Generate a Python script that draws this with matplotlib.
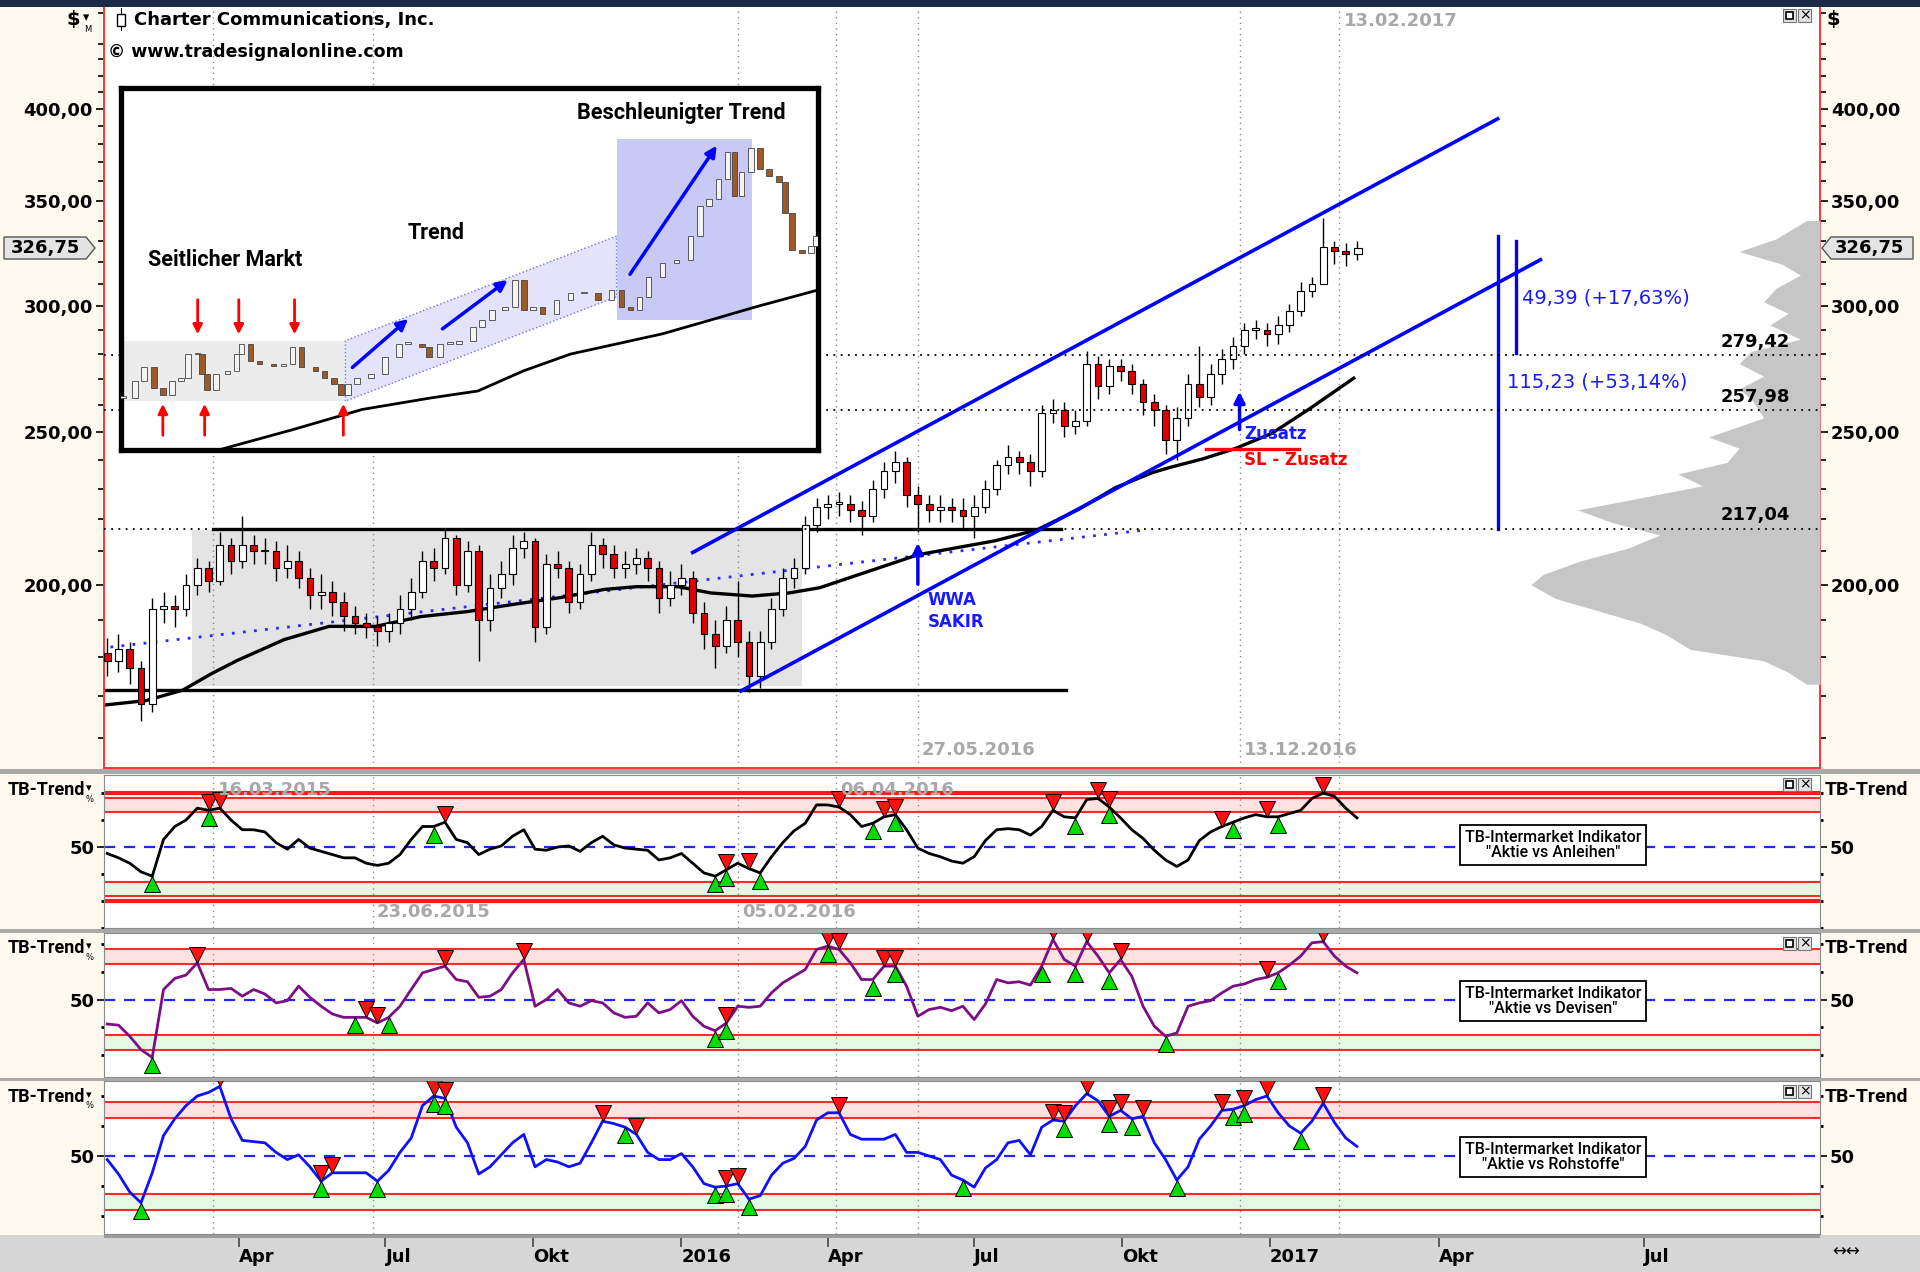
import numpy as np
import pandas as pd
import matplotlib
matplotlib.use("Agg")
import matplotlib.pyplot as plt
import matplotlib.dates as mdates
from matplotlib.patches import Rectangle, Polygon
from matplotlib.ticker import FixedLocator, FuncFormatter, NullFormatter, NullLocator
from matplotlib.transforms import offset_copy, blended_transform_factory

W, H = 1920, 1272
COND = ['Roboto', 'DejaVu Sans']

# ---------------- data ----------------
# weekly candles, first one ends 2015-01-09, open = previous close
first_week = "2015-01-09"
first_open = 181
closes = [179, 182, 177, 168, 193, 194, 193, 200, 205, 201,
          212, 207, 212, 210, 210, 205, 207, 202, 197, 198,
          195, 191, 189, 188, 187, 189, 193, 198, 207, 205,
          214, 200, 210, 190, 199, 203, 211, 213, 188, 206,
          205, 195, 203, 212, 209, 205, 206, 208, 205, 196,
          200, 202, 192, 186, 183, 190, 184, 175, 184, 193,
          202, 205, 218, 224, 225, 225, 223, 221, 230, 236,
          239, 228, 225, 223, 224, 223, 221, 224, 230, 238,
          241, 239, 236, 257, 258, 252, 254, 276, 267, 275,
          273, 268, 261, 258, 247, 255, 268, 263, 272, 278,
          283, 290, 290, 288, 292, 298, 307, 310, 327, 325,
          324, 326.75]
highs = [185, 186, 184, 179, 196, 198, 197, 203, 208, 207,
         216, 214, 221, 215, 214, 213, 212, 210, 205, 203,
         201, 198, 194, 192, 191, 192, 197, 202, 210, 211,
         217, 215, 213, 212, 203, 207, 215, 216, 214, 209,
         210, 207, 206, 216, 214, 212, 210, 211, 210, 207,
         204, 206, 204, 195, 190, 194, 201, 187, 187, 196,
         205, 208, 221, 227, 228, 229, 228, 226, 233, 239,
         243, 241, 231, 228, 228, 227, 227, 228, 233, 240,
         245, 243, 242, 260, 262, 261, 258, 281, 279, 278,
         278, 276, 270, 264, 260, 259, 272, 283, 276, 282,
         287, 293, 294, 293, 296, 301, 311, 313, 341, 330,
         329, 330]
lows = [175, 176, 173, 164, 166, 189, 188, 191, 197, 198,
        200, 203, 205, 206, 206, 201, 202, 199, 193, 193,
        191, 187, 186, 185, 183, 184, 186, 190, 196, 201,
        203, 197, 198, 179, 187, 196, 200, 208, 184, 186,
        202, 192, 193, 201, 205, 202, 202, 203, 201, 192,
        194, 197, 189, 182, 177, 181, 180, 171, 172, 182,
        191, 199, 203, 216, 220, 221, 219, 215, 219, 227,
        232, 224, 216, 219, 219, 219, 217, 214, 222, 228,
        235, 235, 231, 234, 253, 248, 249, 252, 262, 264,
        269, 264, 256, 252, 242, 240, 252, 259, 260, 268,
        274, 280, 286, 283, 284, 289, 296, 304, 318, 319,
        318, 321]

ma_dates = ["2015-01-07", "2015-02-02", "2015-02-25", "2015-03-15", "2015-03-31",
            "2015-04-29", "2015-05-27", "2015-06-25", "2015-07-23", "2015-08-21",
            "2015-09-18", "2015-10-17", "2015-11-14", "2015-12-04", "2015-12-30",
            "2016-01-19", "2016-02-14", "2016-03-08", "2016-03-27", "2016-05-27",
            "2016-07-14", "2016-08-09", "2016-09-04", "2016-09-27", "2016-10-20",
            "2016-10-31", "2016-11-20", "2016-12-10", "2017-01-02", "2017-01-25",
            "2017-02-22"]
ma_vals = [167.8, 168.9, 171.5, 175.7, 179.1, 184.6, 188.2, 188.2, 190.9, 192.3,
           194.3, 196.2, 198.6, 199.4, 199.4, 197.6, 196.7, 197.6, 199.1, 208.9,
           213.2, 216.6, 223.2, 230.4, 235.5, 237.3, 240.2, 243.8, 249.3, 258.2,
           270.2]

trend_dates = ["2015-01-11", "2016-10-14"]
trend_vals = [182.6, 216.5]
chan_up_dates = ["2016-01-08", "2017-04-27"]
chan_up_vals = [209.6, 394.3]
chan_lo_dates = ["2016-02-07", "2017-05-16"]
chan_lo_vals = [171.3, 321.1]
box_dates = ["2015-03-03", "2016-03-16"]
box_vals = [172.5, 216.5]
res_dates = ["2015-03-16", "2016-08-24"]
res_val = 217.04
sup_dates = ["2015-01-07", "2016-08-27"]
sup_val = 171.6
levels = [279.42, 257.98, 217.04]
level_labels = ["279,42", "257,98", "217,04"]
meas_dates = ["2017-04-27", "2017-05-05"]
meas_top = [332.2, 329.9]
meas_bot = [217.04, 280.3]
sl_dates = ["2016-11-22", "2017-01-19"]
sl_val = 243.6
wwa_date, wwa_from, wwa_to = "2016-05-27", 199.3, 213.4
zus_date, zus_from, zus_to = "2016-12-13", 249.7, 266.0

vp_prices = [340, 331, 325, 319, 314, 308, 302, 297, 292, 286, 281, 276, 271,
             266, 262, 255, 248, 244, 239, 235, 231, 227, 223, 219, 215, 211,
             207, 203, 200, 196, 193, 189, 186, 182, 179, 176, 173]
vp_widths = [11, 36, 66, 31, 16, 36, 46, 26, 41, 16, 56, 66, 46,
             66, 56, 46, 91, 66, 76, 116, 96, 146, 198, 170, 131, 156,
             196, 226, 236, 216, 186, 146, 126, 106, 46, 26, 11]

marker_dates = ["2015-03-16", "2015-06-23", "2016-02-05", "2016-04-06",
                "2016-05-27", "2016-12-13", "2017-02-13"]

tick_dates = ["2015-04-01", "2015-07-01", "2015-10-01", "2016-01-01", "2016-04-01",
              "2016-07-01", "2016-10-01", "2017-01-01", "2017-04-01", "2017-07-01"]
tick_labels = ["Apr", "Jul", "Okt", "2016", "Apr", "Jul", "Okt", "2017", "Apr", "Jul"]

osc_anleihen = [44, 40, 35, 27, 23, 57, 69, 75, 86, 84,
                86, 75, 66, 66, 64, 54, 48, 57, 49, 46,
                43, 40, 40, 35, 33, 35, 43, 57, 69, 69,
                73, 57, 54, 43, 48, 51, 60, 66, 48, 47,
                50, 51, 46, 54, 60, 52, 49, 48, 47, 38,
                40, 44, 35, 26, 23, 29, 35, 30, 26, 41,
                54, 65, 72, 89, 89, 87, 80, 69, 72, 78,
                80, 66, 49, 44, 41, 37, 35, 41, 56, 66,
                67, 66, 61, 69, 84, 78, 77, 94, 95, 87,
                77, 66, 58, 47, 38, 32, 38, 56, 64, 69,
                73, 77, 80, 78, 78, 81, 84, 95, 100, 97,
                86, 77]
osc_devisen = [28, 27, 17, 5, -2, 59, 69, 72, 83, 59,
               59, 60, 53, 59, 55, 47, 49, 62, 52, 44,
               37, 34, 34, 34, 29, 34, 44, 59, 74, 77,
               80, 68, 66, 52, 53, 59, 74, 86, 44, 50,
               59, 47, 44, 49, 47, 38, 34, 35, 47, 38,
               41, 49, 35, 26, 22, 29, 44, 43, 44, 56,
               65, 71, 77, 95, 98, 95, 83, 68, 68, 80,
               80, 62, 35, 41, 43, 40, 44, 32, 46, 68,
               65, 66, 63, 80, 104, 86, 80, 102, 89, 74,
               86, 71, 44, 26, 17, 20, 44, 47, 49, 56,
               62, 64, 68, 70, 74, 81, 89, 101, 102, 89,
               80, 74]
osc_rohstoffe = [47, 35, 20, 11, 36, 67, 81, 92, 100, 103,
                 108, 81, 63, 62, 61, 53, 47, 51, 41, 29,
                 36, 36, 36, 36, 29, 38, 53, 65, 92, 100,
                 98, 74, 61, 35, 41, 51, 61, 68, 41, 47,
                 45, 41, 44, 61, 79, 77, 74, 68, 53, 47,
                 47, 52, 41, 27, 24, 25, 27, 14, 17, 34,
                 44, 48, 58, 80, 86, 86, 68, 64, 64, 64,
                 68, 53, 53, 50, 47, 34, 30, 24, 40, 47,
                 61, 63, 51, 74, 80, 79, 92, 102, 96, 83,
                 88, 81, 83, 61, 47, 30, 41, 64, 75, 88,
                 89, 92, 97, 100, 86, 75, 69, 79, 94, 78,
                 65, 58]
anl_buy = [4, 9, 29, 54, 55, 58, 68, 70, 86, 89, 100, 104]
anl_sell = [9, 10, 30, 55, 57, 65, 69, 70, 84, 88, 89, 99, 103, 108]
dev_buy = [4, 22, 25, 54, 55, 64, 68, 70, 83, 86, 89, 94, 104]
dev_sell = [8, 23, 24, 30, 37, 55, 64, 65, 69, 70, 84, 87, 90, 103, 108]
roh_buy = [3, 19, 24, 29, 30, 46, 54, 55, 57, 76, 85, 89, 91, 95, 100, 101, 106]
roh_sell = [10, 19, 20, 29, 30, 44, 47, 55, 56, 65, 84, 85, 87, 89, 90, 92, 99, 101, 103, 108]

# inset sketch (its own 0..100 coordinates)
ins_x = [0.3, 2, 3.3, 4.7, 6, 7.3, 8.6, 9.6, 11, 11.6, 12.3, 13.6, 15.3, 16.6, 17.3,
         18.6, 19.9, 21.9, 23.3, 24.6, 25.9, 27.9, 29.2, 30.6, 31.6, 32.6, 33.9, 35.9,
         37.9, 39.9, 41.2, 43.2, 44.2, 45.8, 47.2, 48.5, 50.5, 51.8, 53.2, 55.1, 56.5,
         57.8, 59.1, 60.5, 62.5, 64.5, 66.4, 68.4, 70.4, 71.8, 73.1, 74.4, 75.7, 77.7,
         79.7, 81.7, 83.1, 84.4, 85.7, 87, 88, 89, 90.4, 91.7, 93, 94.4, 95.3, 96.3,
         97.7, 99, 99.7]
ins_close = [14.4, 19, 22.8, 17.2, 15.3, 19, 20, 26.5, 26.5, 21, 16.7, 21, 21.9, 26.5,
             29.3, 24.7, 23.7, 23.3, 23.7, 28.4, 22.8, 21.9, 20, 18.1, 15.3, 18.1, 20,
             21, 25.6, 29.3, 29.3, 28.4, 25.6, 29.3, 29.3, 30.2, 34, 35.8, 38.6, 39.5,
             47, 38.6, 39.5, 37.7, 41.4, 43.3, 43.3, 41.4, 44.2, 39.5, 38.6, 42.3, 47.9,
             51.6, 52.6, 59.1, 67.4, 69.3, 74.9, 82.3, 70.2, 76.7, 83.3, 77.7, 75.8, 74,
             65.6, 55.3, 54.4, 56.3, 59.1]
ins_ma_x = [14, 24.6, 34.6, 44.5, 51.2, 57.8, 64.5, 71.1, 77.7, 84.4, 91, 100]
ins_ma_y = [0, 5.6, 11.2, 14.4, 16.3, 21.9, 26.5, 29.3, 32.1, 35.8, 39.5, 44.2]
ins_side = [0, 13.5, 32.2, 30.2]          # x0, y0, x1, y1
ins_chan = [(32.2, 13.5), (32.2, 30.2), (71.1, 59.1), (71.1, 42.3)]
ins_fast = [71.1, 35.8, 90.6, 86.0]
ins_blue_arrows = [((32.9, 22.3), (41.5, 36.7)), ((45.8, 33.0), (55.8, 47.4)),
                   ((72.8, 47.9), (85.7, 84.7))]
ins_red_down = [11, 16.9, 24.9]
ins_red_up = [6, 12, 31.9]

# ---------------- x scale (date -> screen position) ----------------
knot_dates = ["2014-01-01", "2017-02-24", "2017-04-01", "2017-07-01", "2018-07-01"]
knot_px = [-492.2, 1356.0, 1438.0, 1643.0, 2465.0]


def d(s):
    return mdates.date2num(pd.to_datetime(s))


kx = np.asarray(d(knot_dates), dtype=float)
kp = np.array(knot_px)


def fwd(x):
    return np.interp(x, kx, kp)


def inv(p):
    return np.interp(p, kp, kx)


xw = mdates.date2num(pd.date_range(first_week, periods=len(closes), freq="7D"))
x_left, x_right = d("2015-01-07"), d("2017-09-17")

# ---------------- figure ----------------
fig = plt.figure(figsize=(W / 100, H / 100), dpi=100)
fig.patch.set_facecolor('#fdf9ee')


def px_axes(x0, y0, x1, y1):
    return fig.add_axes([x0 / W, 1 - y1 / H, (x1 - x0) / W, (y1 - y0) / H])


def fig_rect(x0, y0, x1, y1, **kw):
    fig.add_artist(Rectangle((x0 / W, 1 - y1 / H), (x1 - x0) / W, (y1 - y0) / H,
                             transform=fig.transFigure, **kw))


def fig_text(x, y, s, **kw):
    fig.text(x / W, 1 - y / H, s, **kw)


# background bars (drawn under the axes)
fig_rect(0, 1235, W, H, color='#d6d6d6', lw=0, zorder=-2)

ax = px_axes(104, 7, 1820, 768)
p1 = px_axes(104, 775, 1820, 928)
p2 = px_axes(104, 933, 1820, 1077)
p3 = px_axes(104, 1081, 1820, 1234)
for a in (ax, p1, p2, p3):
    a.set_xscale('function', functions=(fwd, inv))
    a.set_xlim(x_left, x_right)
    for dt in marker_dates:
        a.axvline(d(dt), color='#8a8a8a', lw=1, ls=(0, (1, 3)), zorder=1)

# ---- main price panel ----
ax.set_yscale('log')
ax.set_ylim(153.1, 464.1)
ax.yaxis.set_major_locator(FixedLocator([200, 250, 300, 350, 400]))
ax.yaxis.set_minor_locator(FixedLocator([v for v in range(160, 461, 10) if v % 50]))
ax.yaxis.set_major_formatter(FuncFormatter(lambda v, p: f"{v:.2f}".replace('.', ',')))
ax.yaxis.set_minor_formatter(NullFormatter())
ax.tick_params(axis='y', which='both', left=True, right=True, labelleft=True,
               labelright=True, direction='out', width=1.2)
ax.tick_params(axis='y', which='major', length=6, pad=2, labelsize=13)
ax.tick_params(axis='y', which='minor', length=4)
for lbl in ax.get_yticklabels():
    lbl.set_fontweight('bold')
ax.tick_params(axis='x', which='both', bottom=False, labelbottom=False)
for s in ('left', 'right', 'bottom'):
    ax.spines[s].set_color('#ff3333')
    ax.spines[s].set_linewidth(1.4)
ax.spines['top'].set_visible(False)

ax.add_patch(Rectangle((d(box_dates[0]), box_vals[0]), d(box_dates[1]) - d(box_dates[0]),
                       box_vals[1] - box_vals[0], color='#e4e4e4', lw=0, zorder=0.5))
ax.plot(d(res_dates), [res_val] * 2, color='black', lw=2.4, zorder=2)
ax.plot(d(sup_dates), [sup_val] * 2, color='black', lw=2.4, zorder=2)
ax.plot(d(trend_dates), trend_vals, color='#2a2aff', lw=2.0, ls=(0, (1, 3)), zorder=2)
ax.plot(d(ma_dates), ma_vals, color='black', lw=2.4, zorder=2.5)

opens = np.array([first_open] + closes[:-1], dtype=float)
c = np.array(closes, dtype=float)
up = c >= opens
ax.vlines(xw, lows, highs, color='black', lw=1.0, zorder=3)
ax.bar(xw, np.maximum(np.abs(c - opens), 0.5), bottom=np.minimum(opens, c), width=4.2,
       color=np.where(up, 'white', '#e00000'), edgecolor='black', lw=0.8, zorder=4)

ax.plot(d(chan_up_dates), chan_up_vals, color='#0000ff', lw=2.6, zorder=5)
ax.plot(d(chan_lo_dates), chan_lo_vals, color='#0000ff', lw=2.6, zorder=5)
for i in range(2):
    ax.plot([d(meas_dates[i])] * 2, [meas_bot[i], meas_top[i]], color='#0000ff', lw=2.4, zorder=5)
ax.plot(d(sl_dates), [sl_val] * 2, color='#ff0000', lw=2.4, zorder=5)
for dt, a0, a1 in ((wwa_date, wwa_from, wwa_to), (zus_date, zus_from, zus_to)):
    ax.annotate('', xy=(d(dt), a1), xytext=(d(dt), a0),
                arrowprops=dict(arrowstyle='-|>', color='#0000ff', lw=2.5, mutation_scale=16),
                zorder=6)

blue_t = dict(color='#1a1aff', fontsize=12, fontweight='bold', va='center', zorder=7)
ax.text(d("2016-06-02"), 195.5, "WWA", **blue_t)
ax.text(d("2016-06-02"), 189.4, "SAKIR", **blue_t)
ax.text(d("2016-12-16"), 249.2, "Zusatz", **blue_t)
ax.text(d("2016-12-16"), 239.8, "SL - Zusatz", color='#ff0000', fontsize=12,
        fontweight='bold', va='center', zorder=7)
ax.text(d("2017-05-08"), 303.8, "49,39 (+17,63%)", color='#1a1aff', fontsize=14,
        fontweight='medium', va='center')
ax.text(d("2017-05-01"), 268.6, "115,23 (+53,14%)", color='#1a1aff', fontsize=14,
        fontweight='medium', va='center')

gray_t = dict(color='#a8a8a8', fontsize=13, fontweight='bold', va='center')
for a, dt, yf in ((ax, "2017-02-13", 0.982), (ax, "2016-05-27", 0.024), (ax, "2016-12-13", 0.024),
                  (p1, "2015-03-16", 0.90), (p1, "2016-04-06", 0.90),
                  (p1, "2015-06-23", 0.105), (p1, "2016-02-05", 0.105)):
    a.annotate(pd.to_datetime(dt).strftime("%d.%m.%Y"), xy=(d(dt), yf),
               xycoords=('data', 'axes fraction'), xytext=(3, 0),
               textcoords='offset points', zorder=8, **gray_t)

# volume profile, anchored at the right border
vp = ax.twiny()
vp.set_xlim(1401, 0)
vp.fill_betweenx(vp_prices, 0, vp_widths, color='#c6c6c6', lw=0)
for lv, lab in zip(levels, level_labels):
    vp.axhline(lv, color='black', lw=1.3, ls=(0, (1, 3)))
    vp.text(0.9825, lv * 1.006, lab, transform=blended_transform_factory(vp.transAxes, vp.transData),
            ha='right', va='bottom', fontsize=13, fontweight='bold')
vp.axis('off')

# ---- inset sketch ----
ins = px_axes(121, 88, 818, 450)
ins.set_xlim(0, 100)
ins.set_ylim(0, 100)
ins.set_xticks([])
ins.set_yticks([])
for s in ins.spines.values():
    s.set_linewidth(3.8)
ins.add_patch(Rectangle((ins_side[0], ins_side[1]), ins_side[2] - ins_side[0],
                        ins_side[3] - ins_side[1], color='#ececec', lw=0, zorder=0))
ins.add_patch(Polygon(ins_chan, closed=True, facecolor='#e3e3fb', edgecolor='#7070ff',
                      ls=':', lw=1, zorder=0))
ins.add_patch(Rectangle((ins_fast[0], ins_fast[1]), ins_fast[2] - ins_fast[0],
                        ins_fast[3] - ins_fast[1], color='#c9c9f5', lw=0, zorder=0))
ins.plot(ins_ma_x, ins_ma_y, color='black', lw=2)
io = np.array([ins_close[0]] + ins_close[:-1])
ic = np.array(ins_close)
ins.bar(ins_x, np.maximum(np.abs(ic - io), 0.4), bottom=np.minimum(io, ic), width=0.8,
        color=np.where(ic >= io, '#f4f4f4', '#9b5a2a'), edgecolor='#444444', lw=0.6, zorder=3)
for a0, a1 in ins_blue_arrows:
    ins.annotate('', xy=a1, xytext=a0, arrowprops=dict(arrowstyle='-|>', color='#0000ff',
                                                       lw=2.5, mutation_scale=16), zorder=4)
for xv in ins_red_down:
    ins.annotate('', xy=(xv, 31.2), xytext=(xv, 42.3),
                 arrowprops=dict(arrowstyle='-|>', color='#ff0000', lw=2, mutation_scale=14))
for xv in ins_red_up:
    ins.annotate('', xy=(xv, 13.5), xytext=(xv, 3.3),
                 arrowprops=dict(arrowstyle='-|>', color='#ff0000', lw=2, mutation_scale=14))
ins_t = dict(fontsize=15.5, family=COND, fontweight='bold', ha='center', va='center')
ins.text(15, 52.6, "Seitlicher Markt", **ins_t)
ins.text(45.2, 60, "Trend", **ins_t)
ins.text(80.4, 93, "Beschleunigter Trend", **ins_t)


# ---- indicator panels ----
def osc_panel(a, vals, color, buys, sells, ylim, thick=False):
    a.set_ylim(*ylim)
    a.axhspan(82, 95, color='#fde2e2', lw=0, zorder=0)
    a.axhspan(5, 18, color='#e4f9e4', lw=0, zorder=0)
    for v in (82, 95, 5, 18):
        a.axhline(v, color='#ff2a2a', lw=1.5, zorder=1)
    if thick:
        for v in (0, 100):
            a.axhline(v, color='#ff1a1a', lw=3, zorder=1)
    a.axhline(50, color='#2424ff', lw=1.6, ls=(0, (5, 4)), zorder=1)
    vals = np.array(vals, dtype=float)
    a.plot(xw, vals, color=color, lw=2.0, zorder=3)
    t_up = offset_copy(a.transData, fig=fig, x=0, y=-8, units='dots')
    t_dn = offset_copy(a.transData, fig=fig, x=0, y=8, units='dots')
    a.plot(xw[buys], vals[buys], ls='none', marker='^', ms=11, mfc='#00dd00',
           mec='black', mew=0.7, transform=t_up, zorder=4)
    a.plot(xw[sells], vals[sells], ls='none', marker='v', ms=11, mfc='#ff1010',
           mec='black', mew=0.7, transform=t_dn, zorder=5)
    a.yaxis.set_major_locator(FixedLocator([50]))
    a.yaxis.set_minor_locator(FixedLocator([-25, 0, 25, 75, 100]))
    a.yaxis.set_major_formatter(FuncFormatter(lambda v, p: "50"))
    a.tick_params(axis='y', which='both', left=True, right=True, labelleft=True,
                  labelright=True, direction='out')
    a.tick_params(axis='y', which='major', length=5, width=1.2, labelsize=13, pad=2)
    a.tick_params(axis='y', which='minor', length=2, width=2)
    for lbl in a.get_yticklabels():
        lbl.set_fontweight('bold')
    a.tick_params(axis='x', which='both', bottom=False, labelbottom=False)
    for s in a.spines.values():
        s.set_color('#8a8a8a')


osc_panel(p1, osc_anleihen, 'black', anl_buy, anl_sell, (-25, 116.7), thick=True)
osc_panel(p2, osc_devisen, '#7d0f86', dev_buy, dev_sell, (-19.6, 109.8))
osc_panel(p3, osc_rohstoffe, '#1010ff', roh_buy, roh_sell, (-15, 112.5))

p3.xaxis.set_major_locator(FixedLocator(d(tick_dates)))
p3.xaxis.set_minor_locator(NullLocator())
p3.set_xticklabels(tick_labels, ha='left', fontweight='bold', fontsize=13)
p3.tick_params(axis='x', which='major', bottom=True, labelbottom=True, direction='out',
               length=9, width=1.2, pad=1, color='#444444')

# ---- frame decorations ----
fig_rect(0, 0, W, 7, color='#1c2b45', lw=0)
for y0, y1 in ((769, 774), (929, 933), (1078, 1081)):
    fig_rect(0, y0, W, y1, color='#a9a9a9', lw=0)
fig_rect(104, 1235, 1820, 1238, color='#9a9a9a', lw=0)

fig_text(134, 20, "Charter Communications, Inc.", fontsize=13, fontweight='bold', va='center')
fig_rect(117, 14, 125, 26, facecolor='white', edgecolor='black', lw=1)
fig_rect(120.5, 8, 121.5, 14, color='black', lw=0)
fig_rect(120.5, 26, 121.5, 31, color='black', lw=0)
fig_text(108, 52, "\u00a9 www.tradesignalonline.com", fontsize=12.5, fontweight='bold', va='center')
fig_text(80, 20, "$", fontsize=14, fontweight='bold', ha='right', va='center')
fig_text(83, 18, "\u25be", fontsize=9, va='center')
fig_text(84, 30, "M", fontsize=6, va='center')
fig_text(1826, 20, "$", fontsize=14, fontweight='bold', va='center')

# current price tags
tag_y = 248
for pts, tx in (([(1822, tag_y), (1831, tag_y - 11), (1913, tag_y - 11), (1913, tag_y + 11),
                  (1831, tag_y + 11)], 1870),
                ([(4, tag_y - 11), (86, tag_y - 11), (95, tag_y), (86, tag_y + 11),
                  (4, tag_y + 11)], 46)):
    fig.add_artist(Polygon([(x / W, 1 - y / H) for x, y in pts], closed=True,
                           transform=fig.transFigure, facecolor='#e4e4e4',
                           edgecolor='#555555', lw=1))
    fig_text(tx, tag_y, "326,75", fontsize=13, fontweight='bold', ha='center', va='center')

# panel names and legend boxes
for ytop in (790, 948, 1097):
    fig_text(85, ytop, "TB-Trend", fontsize=13, fontweight='bold', family=COND,
             ha='right', va='center')
    fig_text(86, ytop - 2, "\u25be", fontsize=8, va='center')
    fig_text(86, ytop + 9, "%", fontsize=6, va='center')
    fig_text(1825, ytop, "TB-Trend", fontsize=14, fontweight='bold', family=COND, va='center')
for ybox, name in ((845, '"Aktie vs Anleihen"'), (1001, '"Aktie vs Devisen"'),
                   (1157, '"Aktie vs Rohstoffe"')):
    fig_text(1553, ybox, "TB-Intermarket Indikator\n" + name, fontsize=11.5, family=COND,
             fontweight='medium', ha='center', va='center', linespacing=1.0,
             bbox=dict(boxstyle='square,pad=0.3', facecolor='white', edgecolor='black', lw=1.3))

# little window buttons
for ybtn in (9, 778, 937, 1085):
    fig_rect(1783, ybtn, 1796, ybtn + 13, facecolor='#e2e2e2', edgecolor='#777777', lw=0.8)
    fig_rect(1786, ybtn + 3, 1793, ybtn + 10, facecolor='white', edgecolor='black', lw=1.2)
    fig_rect(1798, ybtn, 1811, ybtn + 13, facecolor='#e2e2e2', edgecolor='#777777', lw=0.8)
    fig_text(1804.5, ybtn + 6.5, "\u00d7", fontsize=10, ha='center', va='center')
fig_text(1832, 1252, "\u2194\u2194", fontsize=12, va='center')

fig.savefig("out.png", dpi=100, facecolor=fig.get_facecolor())
